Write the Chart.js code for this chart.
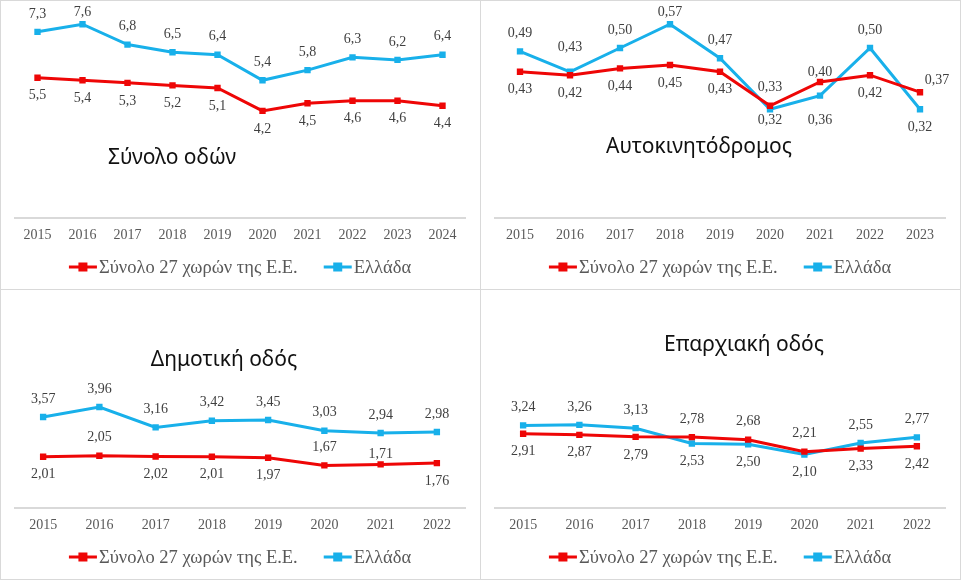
<!DOCTYPE html>
<html lang="el">
<head>
<meta charset="utf-8">
<title>Δείκτες ανά είδος οδού</title>
<script src="https://cdn.jsdelivr.net/npm/chart.js@4.4.1/dist/chart.umd.min.js"></script>
<style>
    body { margin: 0; background: #ffffff; }
    #board { position: relative; width: 961px; height: 580px; overflow: hidden; }
    #board canvas { position: absolute; }
    .rule { position: absolute; background: #d9d9d9; }
</style>
</head>
<body>
<div id="board">
    <canvas id="chartTotal" width="480" height="289" style="left:0;top:0"></canvas>
    <canvas id="chartMotorway" width="480" height="289" style="left:480px;top:0"></canvas>
    <canvas id="chartUrban" width="480" height="289" style="left:0;top:290px"></canvas>
    <canvas id="chartRural" width="480" height="289" style="left:480px;top:290px"></canvas>
    <div class="rule" style="left:0;top:0;width:1px;height:580px"></div>
    <div class="rule" style="left:480px;top:0;width:1px;height:580px"></div>
    <div class="rule" style="left:960px;top:0;width:1px;height:580px"></div>
    <div class="rule" style="left:0;top:0;width:961px;height:1px"></div>
    <div class="rule" style="left:0;top:289px;width:961px;height:1px"></div>
    <div class="rule" style="left:0;top:579px;width:961px;height:1px"></div>
</div>
<script>
// Data -----------------------------------------------------------------------------------

var YEARS_TO_2024 = ['2015', '2016', '2017', '2018', '2019', '2020', '2021', '2022', '2023', '2024'];
var YEARS_TO_2023 = ['2015', '2016', '2017', '2018', '2019', '2020', '2021', '2022', '2023'];
var YEARS_TO_2022 = ['2015', '2016', '2017', '2018', '2019', '2020', '2021', '2022'];

var SERIES_EU = 'Σύνολο 27 χωρών της Ε.Ε.';
var SERIES_GR = 'Ελλάδα';

var TOTAL_EU = [5.5, 5.4, 5.3, 5.2, 5.1, 4.2, 4.5, 4.6, 4.6, 4.4];
var TOTAL_GR = [7.3, 7.6, 6.8, 6.5, 6.4, 5.4, 5.8, 6.3, 6.2, 6.4];

var MOTORWAY_EU = [0.43, 0.42, 0.44, 0.45, 0.43, 0.33, 0.40, 0.42, 0.37];
var MOTORWAY_GR = [0.49, 0.43, 0.50, 0.57, 0.47, 0.32, 0.36, 0.50, 0.32];

var URBAN_EU = [2.01, 2.05, 2.02, 2.01, 1.97, 1.67, 1.71, 1.76];
var URBAN_GR = [3.57, 3.96, 3.16, 3.42, 3.45, 3.03, 2.94, 2.98];

var RURAL_EU = [2.91, 2.87, 2.79, 2.78, 2.68, 2.21, 2.33, 2.42];
var RURAL_GR = [3.24, 3.26, 3.13, 2.53, 2.50, 2.10, 2.55, 2.77];

// Where each value label sits:
// a = above, A = just above, u = well above, b = below, c = just below, B = well below, r = above right
var TOTAL_EU_PLACES = 'bbbbbbbbbb';
var TOTAL_GR_PLACES = 'aaaaaaaaaa';
var MOTORWAY_EU_PLACES = 'bbbbbaAbr';
var MOTORWAY_GR_PLACES = 'auaaacBab';
var URBAN_EU_PLACES = 'babbbaAb';
var URBAN_GR_PLACES = 'aaaaaaaa';
var RURAL_EU_PLACES = 'bbbaaabb';
var RURAL_GR_PLACES = 'aaabbbaa';

// Constants ------------------------------------------------------------------------------

var RED = 'rgb(238, 6, 6)';
var BLUE = 'rgb(24, 176, 234)';
var TICK_TEXT = '#595959';
var LABEL_TEXT = '#404040';
var SERIF = '"Liberation Serif", "Times New Roman", serif';
var SANS = '"Noto Sans", "Open Sans", sans-serif';

var LINE_WIDTH = 3;
var POINT_RADIUS = 4.5;
var AXIS_Y = 218;
var LEGEND_Y = 267;

var LABEL_SHIFT = {
    a: [0, -18], A: [0, -10], u: [0, -24],
    b: [0, 18], c: [0, 11], B: [0, 25],
    r: [17, -12]
};

// Plugins --------------------------------------------------------------------------------

var valueLabels = {
    id: 'valueLabels',
    afterDatasetsDraw: function (chart, args, opts) {
        var ctx = chart.ctx;
        ctx.save();
        ctx.font = '14px ' + SERIF;
        ctx.fillStyle = LABEL_TEXT;
        ctx.textAlign = 'center';
        ctx.textBaseline = 'middle';
        chart.data.datasets.forEach(function (ds, i) {
            var meta = chart.getDatasetMeta(i);
            meta.data.forEach(function (pt, j) {
                var shift = LABEL_SHIFT[ds.labelPlaces.charAt(j)];
                var y = Math.max(pt.y + shift[1], 12);
                var text = ds.data[j].toFixed(opts.decimals).replace('.', ',');
                ctx.fillText(text, pt.x + shift[0], y);
            });
        });
        ctx.restore();
    }
};

var panelTitle = {
    id: 'panelTitle',
    afterDraw: function (chart, args, opts) {
        var ctx = chart.ctx;
        ctx.save();
        ctx.font = '21px ' + SANS;
        ctx.fillStyle = '#111111';
        ctx.textAlign = 'center';
        ctx.textBaseline = 'middle';
        ctx.fillText(opts.text, opts.x, opts.y);
        ctx.restore();
    }
};

// Excel-like legend: short line with a square, text right after it
var seriesLegend = {
    id: 'seriesLegend',
    afterDraw: function (chart) {
        var ctx = chart.ctx;
        var markerW = 28;
        var textGap = 2;
        var itemGap = 26;
        ctx.save();
        ctx.font = '18.5px ' + SERIF;
        ctx.textBaseline = 'middle';
        ctx.textAlign = 'left';

        var items = chart.data.datasets.map(function (ds) {
            return { text: ds.label, color: ds.borderColor, width: ctx.measureText(ds.label).width };
        });
        var total = 0;
        items.forEach(function (it, i) {
            total += markerW + textGap + it.width + (i > 0 ? itemGap : 0);
        });

        var x = (chart.width - total) / 2;
        items.forEach(function (it) {
            ctx.fillStyle = it.color;
            ctx.fillRect(x, LEGEND_Y - 1.5, markerW, 3);
            ctx.fillRect(x + markerW / 2 - 4.5, LEGEND_Y - 4.5, 9, 9);
            ctx.fillStyle = TICK_TEXT;
            ctx.fillText(it.text, x + markerW + textGap, LEGEND_Y + 1);
            x += markerW + textGap + it.width + itemGap;
        });
        ctx.restore();
    }
};

// Chart builder --------------------------------------------------------------------------

function buildChart(canvasId, title, years, euValues, grValues, euPlaces, grPlaces, yMax, decimals) {
    var context = document.getElementById(canvasId).getContext('2d');

    var datasets = [{
        label: SERIES_EU,
        data: euValues,
        labelPlaces: euPlaces,
        borderColor: RED,
        backgroundColor: RED
    }, {
        label: SERIES_GR,
        data: grValues,
        labelPlaces: grPlaces,
        borderColor: BLUE,
        backgroundColor: BLUE
    }];

    return new Chart(context, {
        type: 'line',
        data: { labels: years, datasets: datasets },
        plugins: [valueLabels, panelTitle, seriesLegend],
        options: {
            responsive: false,
            animation: false,
            devicePixelRatio: 1,
            layout: { padding: { top: 14, left: 15, right: 15, bottom: 0 } },
            elements: {
                line: { borderWidth: LINE_WIDTH, tension: 0 },
                point: { pointStyle: 'rect', radius: POINT_RADIUS, borderWidth: 0 }
            },
            scales: {
                x: {
                    offset: true,
                    grid: { display: false, drawTicks: false },
                    border: { display: true, color: '#d9d9d9', width: 2 },
                    ticks: { color: TICK_TEXT, padding: 9, font: { family: SERIF, size: 14 } },
                    afterFit: function (scale) { scale.height = scale.chart.height - AXIS_Y; }
                },
                y: { display: false, min: 0, max: yMax }
            },
            plugins: {
                tooltip: { enabled: false },
                legend: { display: false },
                valueLabels: { decimals: decimals },
                panelTitle: title
            }
        }
    });
}

buildChart('chartTotal', { text: 'Σύνολο οδών', x: 172, y: 158 },
    YEARS_TO_2024, TOTAL_EU, TOTAL_GR, TOTAL_EU_PLACES, TOTAL_GR_PLACES, 8, 1);
buildChart('chartMotorway', { text: 'Αυτοκινητόδρομος', x: 219, y: 147 },
    YEARS_TO_2023, MOTORWAY_EU, MOTORWAY_GR, MOTORWAY_EU_PLACES, MOTORWAY_GR_PLACES, 0.6, 2);
buildChart('chartUrban', { text: 'Δημοτική οδός', x: 224, y: 70 },
    YEARS_TO_2022, URBAN_EU, URBAN_GR, URBAN_EU_PLACES, URBAN_GR_PLACES, 8, 2);
buildChart('chartRural', { text: 'Επαρχιακή οδός', x: 264, y: 55 },
    YEARS_TO_2022, RURAL_EU, RURAL_GR, RURAL_EU_PLACES, RURAL_GR_PLACES, 8, 2);
</script>
</body>
</html>
